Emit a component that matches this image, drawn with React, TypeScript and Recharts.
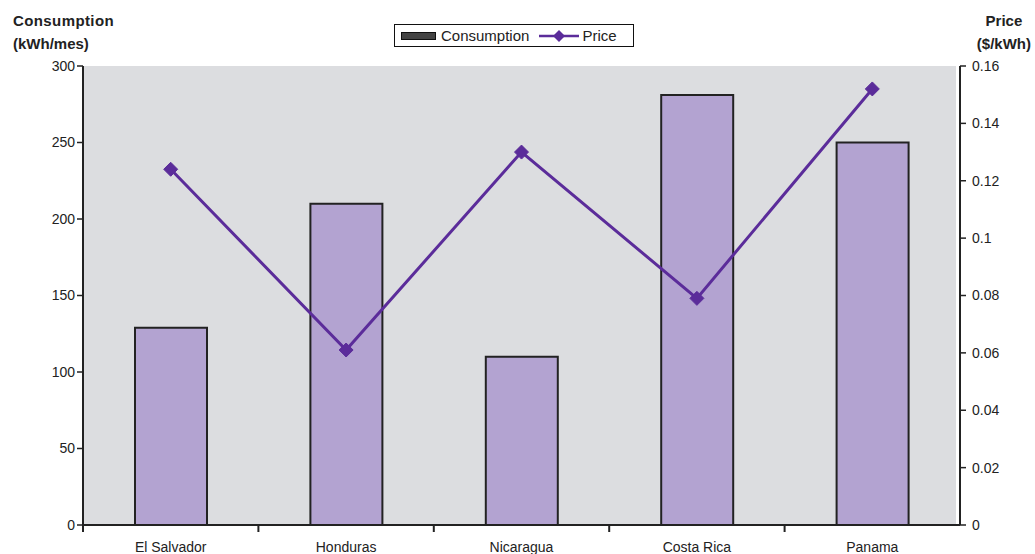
import React from "react";
import {
  Bar,
  ComposedChart,
  Line,
  XAxis,
  YAxis,
} from "recharts";

const countries = ["El Salvador", "Honduras", "Nicaragua", "Costa Rica", "Panama"];
const consumption = [129, 210, 110, 281, 250];
const price = [0.124, 0.061, 0.130, 0.079, 0.152];
const leftTicks = [0, 50, 100, 150, 200, 250, 300];
const rightTicks = [0, 0.02, 0.04, 0.06, 0.08, 0.1, 0.12, 0.14, 0.16];

const data = countries.map((c, i) => ({
  country: c,
  consumption: consumption[i],
  price: price[i],
}));

const W = 1035;
const H = 554;
const TOP = 66;
const X_H = 29;
const LEFT_W = 83;
const RIGHT_W = 75;
const HALF_BAND = (W - LEFT_W - RIGHT_W) / countries.length / 2;

const BG = "#dcdde0";
const BAR = "#b3a3d1";
const EDGE = "#222222";
const PURPLE = "#5b2c9a";
const FONT = "'Liberation Sans', Arial, sans-serif";

function CountryTick(props: any) {
  const { x, y, payload } = props;
  return (
    <g>
      <line x1={x - HALF_BAND} x2={x - HALF_BAND} y1={y - 8} y2={y - 1} stroke={EDGE} strokeWidth={2} />
      <text x={x} y={y + 19} textAnchor="middle" fontSize={14} fill="#222" fontFamily={FONT}>
        {payload.value}
      </text>
    </g>
  );
}

function Diamond(props: any) {
  const { cx, cy } = props;
  if (cx == null || cy == null) return null;
  const r = 7;
  return (
    <polygon
      points={`${cx},${cy - r} ${cx + r},${cy} ${cx},${cy + r} ${cx - r},${cy}`}
      fill={PURPLE}
      stroke={PURPLE}
      strokeWidth={1}
    />
  );
}

function LegendBox() {
  return (
    <div
      style={{
        position: "absolute",
        left: 394,
        top: 24,
        display: "flex",
        alignItems: "center",
        border: "1.5px solid #111",
        background: "#fff",
        height: 23,
        width: 240,
        boxSizing: "border-box",
        fontFamily: FONT,
        fontSize: 15,
        color: "#222",
        paddingLeft: 6,
      }}
    >
      <span style={{ display: "inline-block", width: 33, height: 6, background: "#444", border: "1px solid #111", marginRight: 5 }} />
      <span>Consumption</span>
      <svg width={40} height={14} style={{ marginLeft: 10, marginRight: 3 }}>
        <line x1={0} y1={7} x2={40} y2={7} stroke={PURPLE} strokeWidth={2.5} />
        <polygon points="20,1 26,7 20,13 14,7" fill={PURPLE} />
      </svg>
      <span>Price</span>
    </div>
  );
}

export default function App() {
  return (
    <div style={{ position: "absolute", left: 0, top: 0, width: W, height: H, background: "#fff" }}>
      <ComposedChart
        width={W}
        height={H}
        data={data}
        margin={{ top: TOP, right: 0, bottom: 0, left: 0 }}
      >
        <rect x={LEFT_W} y={TOP} width={W - LEFT_W - RIGHT_W - 4} height={H - TOP - X_H} fill={BG} />
        <XAxis
          dataKey="country"
          height={X_H}
          axisLine={{ stroke: EDGE, strokeWidth: 2 }}
          tickLine={false}
          tick={<CountryTick />}
          interval={0}
        />
        <YAxis
          yAxisId="left"
          width={LEFT_W}
          domain={[0, 300]}
          ticks={leftTicks}
          axisLine={{ stroke: EDGE, strokeWidth: 2 }}
          tickLine={{ stroke: EDGE, strokeWidth: 1.5 }}
          tickSize={6}
          tick={{ fontSize: 14, fill: "#222", fontFamily: FONT }}
        />
        <YAxis
          yAxisId="right"
          orientation="right"
          width={RIGHT_W}
          domain={[0, 0.16]}
          ticks={rightTicks}
          axisLine={{ stroke: EDGE, strokeWidth: 2 }}
          tickLine={{ stroke: EDGE, strokeWidth: 1.5 }}
          tickSize={6}
          tickMargin={6}
          tick={{ fontSize: 14, fill: "#222", fontFamily: FONT, textAnchor: "start" }}
          tickFormatter={(v: number) => String(v)}
        />
        <Bar
          yAxisId="left"
          dataKey="consumption"
          name="Consumption"
          fill={BAR}
          stroke={EDGE}
          strokeWidth={2}
          barSize={72}
          isAnimationActive={false}
        />
        <Line
          yAxisId="right"
          dataKey="price"
          name="Price"
          type="linear"
          stroke={PURPLE}
          strokeWidth={3}
          dot={<Diamond />}
          activeDot={false}
          isAnimationActive={false}
        />
      </ComposedChart>
      <div style={{ position: "absolute", left: 13, top: 9, fontFamily: FONT, fontWeight: "bold", fontSize: 15, lineHeight: "23px", color: "#222" }}>
        <div style={{ letterSpacing: 0.4 }}>Consumption</div>
        <div>(kWh/mes)</div>
      </div>
      <div style={{ position: "absolute", right: 4, top: 9, fontFamily: FONT, fontWeight: "bold", fontSize: 15, lineHeight: "23px", color: "#222", textAlign: "center" }}>
        <div>Price</div>
        <div>($/kWh)</div>
      </div>
      <LegendBox />
    </div>
  );
}
